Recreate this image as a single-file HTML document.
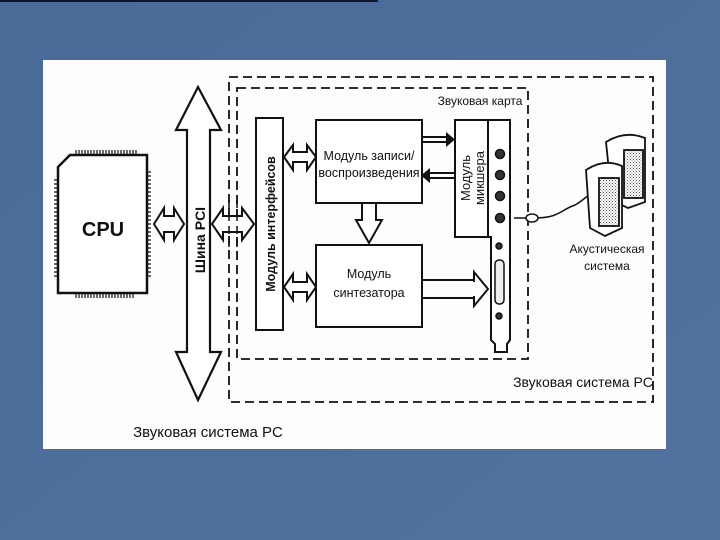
<!DOCTYPE html>
<html><head><meta charset="utf-8"><style>
html,body{margin:0;padding:0;width:720px;height:540px;overflow:hidden;background:#4d6e9c;}
svg{display:block}
text{font-family:"Liberation Sans","DejaVu Sans",sans-serif;fill:#111;}
</style></head><body>
<svg width="720" height="540" viewBox="0 0 720 540">
<defs>
<linearGradient id="bg" x1="0" y1="0" x2="1" y2="1"><stop offset="0" stop-color="#4a6a98"/><stop offset="1" stop-color="#51729f"/></linearGradient>
<pattern id="dots" width="3" height="3" patternUnits="userSpaceOnUse"><rect width="3" height="3" fill="#fff"/><rect width="1" height="1" fill="#555"/><rect x="1.5" y="1.5" width="1" height="1" fill="#777"/></pattern>
</defs>
<rect width="720" height="540" fill="url(#bg)"/>
<rect x="0" y="0" width="378" height="2" fill="#0c1530"/>
<rect x="43" y="60" width="623" height="389" fill="#fdfdfd"/>
<g fill="none" stroke="#111" stroke-width="1.8" stroke-dasharray="9,5">
<rect x="229" y="77" width="424" height="325"/>
<rect x="237" y="88" width="291" height="271"/>
</g>
<!-- CPU -->
<g stroke="#111" fill="none">
<path d="M70,155 H147 V293 H58 V167 Z" stroke-width="2.5" fill="#fff"/>
<path d="M76,150 V155 M79,150 V155 M82,150 V155 M85,150 V155 M88,150 V155 M91,150 V155 M94,150 V155 M97,150 V155 M100,150 V155 M103,150 V155 M106,150 V155 M109,150 V155 M112,150 V155 M115,150 V155 M118,150 V155 M121,150 V155 M124,150 V155 M127,150 V155 M130,150 V155 M133,150 V155 M136,150 V155" stroke-width="1.2"/>
<path d="M76,293 V298 M79,293 V298 M82,293 V298 M85,293 V298 M88,293 V298 M91,293 V298 M94,293 V298 M97,293 V298 M100,293 V298 M103,293 V298 M106,293 V298 M109,293 V298 M112,293 V298 M115,293 V298 M118,293 V298 M121,293 V298 M124,293 V298 M127,293 V298 M130,293 V298 M133,293 V298" stroke-width="1.2"/>
<path d="M147,172 H151 M147,176 H151 M147,180 H151 M147,184 H151 M147,188 H151 M147,192 H151 M147,196 H151 M147,200 H151 M147,204 H151 M147,208 H151 M147,212 H151 M147,216 H151 M147,220 H151 M147,224 H151 M147,228 H151 M147,232 H151 M147,236 H151 M147,240 H151 M147,244 H151 M147,248 H151 M147,252 H151 M147,256 H151 M147,260 H151 M147,264 H151 M147,268 H151 M147,272 H151 M147,276 H151" stroke-width="1.2"/>
<path d="M54,180 H58 M54,184 H58 M54,188 H58 M54,192 H58 M54,196 H58 M54,200 H58 M54,204 H58 M54,208 H58 M54,212 H58 M54,216 H58 M54,220 H58 M54,224 H58 M54,228 H58 M54,232 H58 M54,236 H58 M54,240 H58 M54,244 H58 M54,248 H58 M54,252 H58 M54,256 H58 M54,260 H58 M54,264 H58 M54,268 H58 M54,272 H58 M54,276 H58" stroke-width="1.2"/>
</g>
<text x="103" y="236" font-size="20" font-weight="bold" text-anchor="middle">CPU</text>
<!-- PCI bus -->
<path d="M198,87 L221,130 H210 V352 H221 L198,400 L176,352 H187 V130 H176 Z" fill="#fff" stroke="#111" stroke-width="2.2"/>
<text transform="translate(205,240) rotate(-90)" font-size="14" font-weight="bold" text-anchor="middle">Шина PCI</text>
<!-- double arrows -->
<g fill="#fff" stroke="#111" stroke-width="2">
<path d="M154,224 L164,208 V216 H174 V208 L184,224 L174,240 V232 H164 V240 Z"/>
<path d="M212,224 L223,208 V216 H242 V208 L254,224 L242,240 V232 H223 V240 Z"/>
<path d="M284,157 L293,145 V152 H307 V145 L316,157 L307,170 V162 H293 V170 Z"/>
<path d="M284,287 L293,274 V282 H307 V274 L316,287 L307,300 V292 H293 V300 Z"/>
</g>
<g stroke="#111" stroke-width="1.5" stroke-dasharray="8,5"><path d="M229,200 V250"/><path d="M237,200 V250"/></g>
<!-- interface module -->
<rect x="256" y="118" width="27" height="212" fill="#fff" stroke="#111" stroke-width="2"/>
<text transform="translate(275,224) rotate(-90)" font-size="12.5" font-weight="bold" text-anchor="middle">Модуль интерфейсов</text>
<!-- record module -->
<rect x="316" y="120" width="106" height="83" fill="#fff" stroke="#111" stroke-width="2"/>
<text x="369" y="160" font-size="12.5" text-anchor="middle">Модуль записи/</text>
<text x="369" y="177" font-size="12.5" text-anchor="middle">воспроизведения</text>
<!-- synth module -->
<rect x="316" y="245" width="106" height="82" fill="#fff" stroke="#111" stroke-width="2"/>
<text x="369" y="278" font-size="12.5" text-anchor="middle">Модуль</text>
<text x="369" y="297" font-size="12.5" text-anchor="middle">синтезатора</text>
<!-- down arrow -->
<path d="M362,203 H376 V220 H382 L369,243 L356,220 H362 Z" fill="#fff" stroke="#111" stroke-width="2"/>
<!-- arrows to mixer -->
<g stroke="#111" stroke-width="2" fill="none">
<path d="M422,137 H448 M422,142 H448"/>
<path d="M428,173 H455 M428,178 H455"/>
<path d="M422,280 H475 M422,298 H475"/>
</g>
<path d="M446,132 L455,139.5 L446,147 Z" fill="#111"/>
<path d="M430,168 L421,175.5 L430,183 Z" fill="#111"/>
<path d="M474,272 L488,289 L474,306 Z" fill="#fff" stroke="#111" stroke-width="2"/>
<rect x="472" y="282" width="5" height="14" fill="#fff"/>
<!-- mixer -->
<rect x="455" y="120" width="35" height="117" fill="#fff" stroke="#111" stroke-width="2"/>
<text transform="translate(470,178) rotate(-90)" font-size="13" text-anchor="middle">Модуль</text>
<text transform="translate(484,178) rotate(-90)" font-size="13" text-anchor="middle">микшера</text>
<!-- bracket -->
<path d="M488,120 H510 V340 L507,344 V352 H495 V344 L491,340 V237 H488 Z" fill="#fff" stroke="#111" stroke-width="2"/>
<g fill="#333" stroke="#111" stroke-width="1.5">
<circle cx="500" cy="154" r="4.5"/><circle cx="500" cy="175" r="4.5"/><circle cx="500" cy="196" r="4.5"/><circle cx="500" cy="218" r="4.5"/>
<circle cx="499" cy="246" r="3"/><circle cx="499" cy="316" r="3"/>
<rect x="495" y="260" width="9" height="44" rx="4" fill="#eee"/>
</g>
<!-- plug -->
<path d="M514,218 H530 M534,218 C560,218 560,210 575,205 C585,200 590,190 605,190" stroke="#111" stroke-width="1.5" fill="none"/>
<ellipse cx="532" cy="218" rx="6" ry="4" fill="#fff" stroke="#111" stroke-width="1.5"/>
<!-- speakers -->
<g stroke="#111" stroke-width="1.8">
<path d="M606,142 Q625,130 645,138 V202 L628,208 L612,200 Z" fill="#fff"/>
<rect x="624" y="150" width="19" height="48" fill="url(#dots)"/>
<path d="M586,170 Q604,158 622,166 V228 L605,236 L590,228 Z" fill="#fff"/>
<rect x="599" y="178" width="20" height="48" fill="url(#dots)"/>
</g>
<text x="607" y="253" font-size="12" text-anchor="middle">Акустическая</text>
<text x="607" y="270" font-size="12" text-anchor="middle">система</text>
<!-- labels -->
<text x="480" y="105" font-size="12" text-anchor="middle">Звуковая карта</text>
<text x="583" y="387" font-size="14" text-anchor="middle">Звуковая система PC</text>
<text x="208" y="437" font-size="15" text-anchor="middle">Звуковая система PC</text>
</svg>
</body></html>
